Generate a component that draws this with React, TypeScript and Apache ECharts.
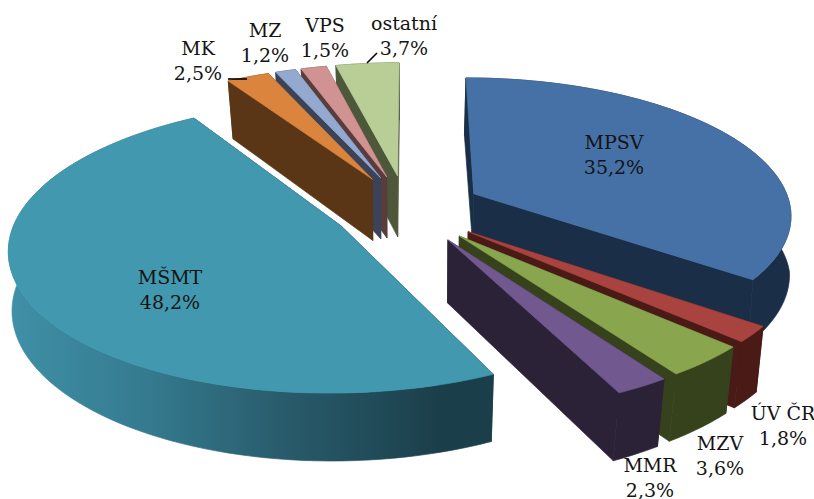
import React, { useEffect, useRef } from "react";
import * as echarts from "echarts";

const names = ["MPSV", "ÚV ČR", "MZV", "MMR", "MŠMT", "MK", "MZ", "VPS", "ostatní"];
const values = [35.2, 1.8, 3.6, 2.3, 48.2, 2.5, 1.2, 1.5, 3.7];
const topColors = ["#4571A6", "#A8433F", "#89A54E", "#71588F", "#4198AF", "#DB843D", "#93A9CF", "#D19392", "#B9CD96"];
const wallColors = ["#1A2E47", "#4A1A17", "#35421C", "#2C2238", "#1B3F4A", "#5A3616", "#3A4358", "#5A3C3C", "#4D5739"];
const labelCentres = [[614, 154], [783, 425], [720, 455], [650, 477], [170, 289], [198, 60], [265, 42], [325, 37], [404, 35]];

// Projection of the pie's plane onto the screen
const CX = 410, CY = 209, RX = 322, RY = 138, PERSP = 7, DEPTH = 62;
const EXPLODE_U = [0.225, 0.23, 0.23, 0.23, 0.24, 0.26, 0.265, 0.27, 0.345];
const EXPLODE_V = [0.25, 0.25, 0.25, 0.25, 0.25, 0.25, 0.25, 0.25, 0.25];
const RADIUS = [0.987, 1, 1, 1, 1, 1, 1, 1, 1];

const total = values.reduce((a, b) => a + b, 0);
const RAD = Math.PI / 180;
let acc = 0;
const spans = values.map((v) => {
  const s = (acc / total) * 360;
  acc += v;
  return [s, (acc / total) * 360];
});

function project(u: number, v: number, drop: number) {
  const p = 1 / (1 + v / PERSP);
  const x = RX * u * p;
  const y = CY - RY * v * p;
  if (!drop) return [CX + x, y];
  return [CX + x * (0.997 - 0.022 * Math.abs(v)), y + DEPTH * (0.5 + 0.5 * p)];
}

function slicePoint(i: number, t: number | null, drop: number) {
  const mid = ((spans[i][0] + spans[i][1]) / 2) * RAD;
  const ou = EXPLODE_U[i] * Math.sin(mid);
  const ov = EXPLODE_V[i] * Math.cos(mid);
  if (t === null) return project(ou, ov, drop);
  return project(ou + RADIUS[i] * Math.sin(t * RAD), ov + RADIUS[i] * Math.cos(t * RAD), drop);
}

function arcAngles(i: number) {
  const [a, b] = spans[i];
  const n = Math.max(2, Math.ceil((b - a) / 2));
  return Array.from({ length: n + 1 }, (_, k) => a + ((b - a) * k) / n);
}

const poly = (points: number[][], fill: any) => ({
  type: "polygon",
  shape: { points },
  style: { fill, stroke: fill, lineWidth: 0.7 },
});

const pctLabel = (i: number) => `${names[i]}\n${values[i].toFixed(1).replace(".", ",")}%`;

function renderSlice(params: any) {
  const i = order[params.dataIndex];
  const angles = arcAngles(i);
  const [a, b] = spans[i];
  const wallFill =
    names[i] === "MŠMT"
      ? new echarts.graphic.LinearGradient(
          14, 0, 440, 0,
          [
            { offset: 0, color: "#3F8FA6" },
            { offset: 0.3, color: "#357B90" },
            { offset: 0.65, color: "#285A6A" },
            { offset: 1, color: wallColors[i] },
          ],
          true
        )
      : wallColors[i];
  const cut = (t: number) =>
    poly(
      [slicePoint(i, null, 0), slicePoint(i, t, 0), slicePoint(i, t, 1), slicePoint(i, null, 1)],
      wallColors[i]
    );
  const yA = slicePoint(i, a, 0)[1];
  const yB = slicePoint(i, b, 0)[1];
  const cuts = yA < yB ? [cut(a), cut(b)] : [cut(b), cut(a)];
  const outer = poly(
    [...angles.map((t) => slicePoint(i, t, 0)), ...angles.slice().reverse().map((t) => slicePoint(i, t, 1))],
    wallFill
  );
  const top = poly([slicePoint(i, null, 0), ...angles.map((t) => slicePoint(i, t, 0))], topColors[i]);
  return { type: "group", children: [...cuts, outer, top] };
}

// back slices are painted first
const order = values
  .map((_, i) => i)
  .sort((p, q) => {
    const m = (k: number) => Math.cos(((spans[k][0] + spans[k][1]) / 2) * RAD);
    return m(q) - m(p);
  });

export default function App() {
  const ref = useRef<HTMLDivElement>(null);
  useEffect(() => {
    const chart = echarts.init(ref.current!, undefined, { renderer: "svg" });
    chart.setOption({
      animation: false,
      backgroundColor: "#ffffff",
      series: [
        {
          type: "custom",
          coordinateSystem: "none",
          silent: true,
          renderItem: renderSlice,
          data: order.map((i) => [values[i]]),
        },
      ],
      graphic: [
        { type: "line", z: 50, shape: { x1: 228, y1: 79, x2: 247, y2: 79 }, style: { stroke: "#000", lineWidth: 1.6 } },
        { type: "line", z: 50, shape: { x1: 367, y1: 63, x2: 377, y2: 53 }, style: { stroke: "#000", lineWidth: 1.6 } },
        ...names.map((_, i) => ({
          type: "text",
          z: 60,
          style: {
            text: pctLabel(i),
            x: labelCentres[i][0],
            y: labelCentres[i][1],
            align: "center",
            verticalAlign: "middle",
            lineHeight: 25,
            font: '19px "DejaVu Serif"',
            fill: "#141414",
          },
        })),
      ],
    });
    return () => chart.dispose();
  }, []);
  return <div ref={ref} style={{ position: "fixed", left: 0, top: 0, width: 814, height: 499 }} />;
}
